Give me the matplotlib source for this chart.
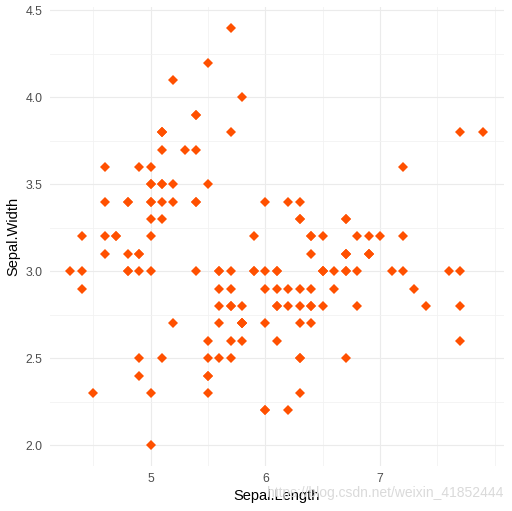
import numpy as np
import matplotlib
matplotlib.use("Agg")
import matplotlib.pyplot as plt
from matplotlib.ticker import FixedLocator, FormatStrFormatter

plt.rcParams['font.family'] = ['Liberation Sans', 'DejaVu Sans']

sepalLength = [
    5.1, 4.9, 4.7, 4.6, 5.0, 5.4, 4.6, 5.0, 4.4, 4.9, 5.4, 4.8, 4.8, 4.3, 5.8, 5.7, 5.4, 5.1, 5.7, 5.1,
    5.4, 5.1, 4.6, 5.1, 4.8, 5.0, 5.0, 5.2, 5.2, 4.7, 4.8, 5.4, 5.2, 5.5, 4.9, 5.0, 5.5, 4.9, 4.4, 5.1,
    5.0, 4.5, 4.4, 5.0, 5.1, 4.8, 5.1, 4.6, 5.3, 5.0,
    7.0, 6.4, 6.9, 5.5, 6.5, 5.7, 6.3, 4.9, 6.6, 5.2, 5.0, 5.9, 6.0, 6.1, 5.6, 6.7, 5.6, 5.8, 6.2, 5.6,
    5.9, 6.1, 6.3, 6.1, 6.4, 6.6, 6.8, 6.7, 6.0, 5.7, 5.5, 5.5, 5.8, 6.0, 5.4, 6.0, 6.7, 6.3, 5.6, 5.5,
    5.5, 6.1, 5.8, 5.0, 5.6, 5.7, 5.7, 6.2, 5.1, 5.7,
    6.3, 5.8, 7.1, 6.3, 6.5, 7.6, 4.9, 7.3, 6.7, 7.2, 6.5, 6.4, 6.8, 5.7, 5.8, 6.4, 6.5, 7.7, 7.7, 6.0,
    6.9, 5.6, 7.7, 6.3, 6.7, 7.2, 6.2, 6.1, 6.4, 7.2, 7.4, 7.9, 6.4, 6.3, 6.1, 7.7, 6.3, 6.4, 6.0, 6.9,
    6.7, 6.9, 5.8, 6.8, 6.7, 6.7, 6.3, 6.5, 6.2, 5.9,
]
sepalWidth = [
    3.5, 3.0, 3.2, 3.1, 3.6, 3.9, 3.4, 3.4, 2.9, 3.1, 3.7, 3.4, 3.0, 3.0, 4.0, 4.4, 3.9, 3.5, 3.8, 3.8,
    3.4, 3.7, 3.6, 3.3, 3.4, 3.0, 3.4, 3.5, 3.4, 3.2, 3.1, 3.4, 4.1, 4.2, 3.1, 3.2, 3.5, 3.6, 3.0, 3.4,
    3.5, 2.3, 3.2, 3.5, 3.8, 3.0, 3.8, 3.2, 3.7, 3.3,
    3.2, 3.2, 3.1, 2.3, 2.8, 2.8, 3.3, 2.4, 2.9, 2.7, 2.0, 3.0, 2.2, 2.9, 2.9, 3.1, 3.0, 2.7, 2.2, 2.5,
    3.2, 2.8, 2.5, 2.8, 2.9, 3.0, 2.8, 3.0, 2.9, 2.6, 2.4, 2.4, 2.7, 2.7, 3.0, 3.4, 3.1, 2.3, 3.0, 2.5,
    2.6, 3.0, 2.6, 2.3, 2.7, 3.0, 2.9, 2.9, 2.5, 2.8,
    3.3, 2.7, 3.0, 2.9, 3.0, 3.0, 2.5, 2.9, 2.5, 3.6, 3.2, 2.7, 3.0, 2.5, 2.8, 3.2, 3.0, 3.8, 2.6, 2.2,
    3.2, 2.8, 2.8, 2.7, 3.3, 3.2, 2.8, 3.0, 2.8, 3.0, 2.8, 3.8, 2.8, 2.8, 2.6, 3.0, 3.4, 3.1, 3.0, 3.1,
    3.1, 3.1, 2.7, 3.2, 3.3, 3.0, 2.5, 3.0, 3.4, 3.0,
]
xBreaks = [5, 6, 7]
xMinor = [4.5, 5.5, 6.5, 7.5, 8.0]
yBreaks = [2.0, 2.5, 3.0, 3.5, 4.0, 4.5]
yMinor = [2.25, 2.75, 3.25, 3.75, 4.25]

fig = plt.figure(figsize=(5.12, 5.11), dpi=100)
ax = fig.add_axes([49.5 / 512, 45 / 511, (504 - 49.5) / 512, (466 - 7) / 511])

ax.plot(sepalLength, sepalWidth, linestyle="none", marker="D", markersize=5.3,
        color="#FF5000", markeredgewidth=0, zorder=3)

x = np.array(sepalLength)
y = np.array(sepalWidth)
xpad = (x.max() - x.min()) * 0.05
ypad = (y.max() - y.min()) * 0.05
ax.set_xlim(x.min() - xpad, x.max() + xpad)
ax.set_ylim(y.min() - ypad, y.max() + ypad)

ax.xaxis.set_major_locator(FixedLocator(xBreaks))
ax.xaxis.set_minor_locator(FixedLocator(xMinor))
ax.yaxis.set_major_locator(FixedLocator(yBreaks))
ax.yaxis.set_minor_locator(FixedLocator(yMinor))
ax.yaxis.set_major_formatter(FormatStrFormatter("%.1f"))

ax.grid(True, which="major", color="#EBEBEB", linewidth=0.8)
ax.grid(True, which="minor", color="#F2F2F2", linewidth=0.6)
ax.set_axisbelow(True)
for s in ax.spines.values():
    s.set_visible(False)
ax.tick_params(which="both", length=0, labelsize=8.8, labelcolor="#4D4D4D", pad=5)

ax.set_xlabel("Sepal.Length", fontsize=10.5, color="black", labelpad=3)
ax.set_ylabel("Sepal.Width", fontsize=10.5, color="black", labelpad=4)

# watermark from the source image
fig.text(503 / 512, 1 - 493 / 511, "https://blog.csdn.net/weixin_41852444", fontsize=10,
         color="#DADADA", ha="right", va="center", zorder=0)

fig.savefig("out.png", dpi=100, facecolor="white")
